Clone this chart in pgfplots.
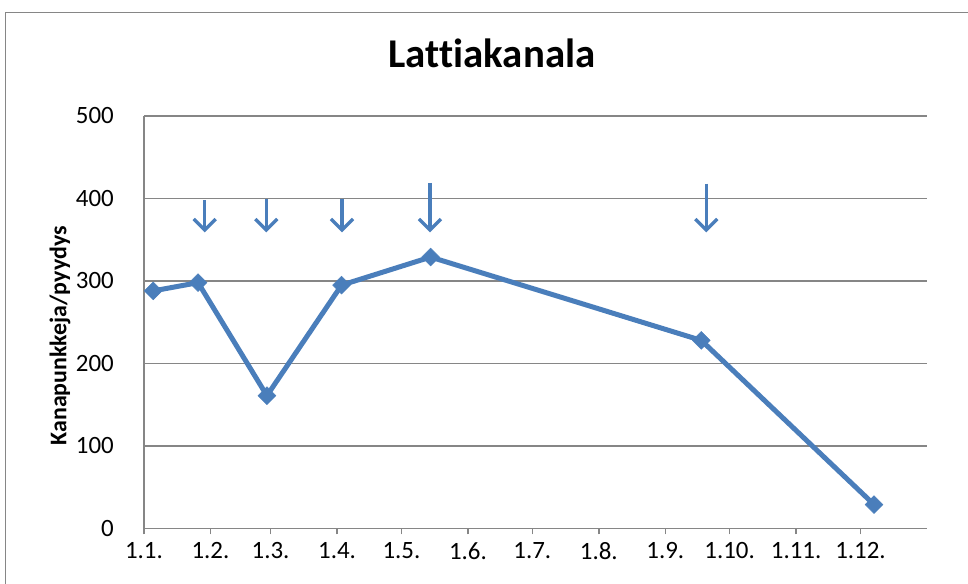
\documentclass[border=0pt]{standalone}
\usepackage{fontspec}
\setmainfont[Ligatures=NoCommon]{Carlito}
\usepackage{pgfplots}
\pgfplotsset{compat=1.18}
\usetikzlibrary{arrows.meta}
\definecolor{exblue}{RGB}{74,126,187}
\definecolor{gridgray}{RGB}{134,134,134}
\begin{document}
\begin{tikzpicture}
\path[use as bounding box] (0,0) rectangle (968bp,584bp);
\draw[gridgray, line width=1.8bp] (5.5bp,0) -- (5.5bp,571.5bp) -- (968bp,571.5bp);
\begin{axis}[
  at={(144bp,55.5bp)}, anchor=south west,
  scale only axis, width=783bp, height=412.5bp,
  xmin=0, xmax=365, ymin=0, ymax=500,
  axis x line=bottom, axis y line=left,
  axis line style={-, draw=gridgray, line width=1.8bp},
  ytick={0,100,200,300,400,500},
  ymajorgrids, grid style={draw=gridgray, line width=1.8bp},
  xtick={0,31,59,90,120,151,181,212,243,273,304,334},
  xticklabels={1.1.,1.2.,1.3.,1.4.,1.5.,1.6.,1.7.,1.8.,1.9.,1.10.,1.11.,1.12.},
  tick align=outside,
  major tick length=6bp,
  x tick style={draw=gridgray, line width=1.5bp},
  y tick style={draw=none},
  /pgf/number format/assume math mode=true,
  ticklabel style={font=\fontsize{25}{30}\selectfont},
  yticklabel style={anchor=east, inner sep=0pt, xshift=-24bp},
  xticklabel style={anchor=north, inner sep=0pt, yshift=-8bp},
  ylabel={Kanapunkkeja/pyydys},
  ylabel style={font=\bfseries\fontsize{24}{28}\selectfont, at={(axis description cs:-0.1073,0.467)}, anchor=center, rotate=0},
]
\addplot[exblue, line width=5bp, mark=square*, mark size=6.3bp, mark options={rotate=45, solid, fill=exblue, draw=exblue, line width=0.5bp}] table {
x y
4.3 288
25.2 298
57.3 161
92.1 295
133.6 329
259.8 228
340.3 29
};
\addplot[exblue, line width=3.3bp, quiver={u=0, v=\thisrow{dy}}, -{Straight Barb[length=11bp, width=22bp, line width=3.3bp]}] table {
x y dy
28.3 398 -39
57.0 400 -41
92.3 400 -41
133.3 419 -60
262.1 418 -59
};
\end{axis}
\node[anchor=base, font=\bfseries\fontsize{41}{48}\selectfont] at (492bp,516bp) {Lattiakanala};
\end{tikzpicture}
\end{document}
